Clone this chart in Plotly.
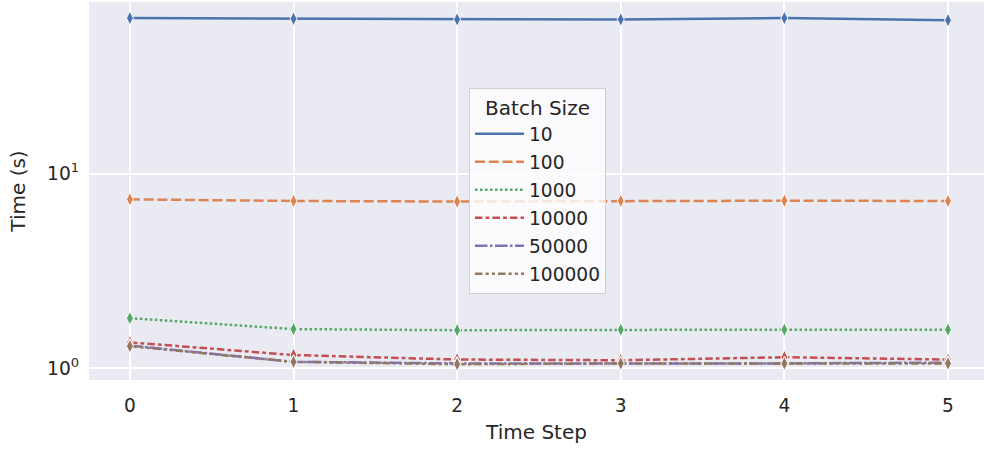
import plotly.graph_objects as go

# Time per step for each batch size
time_steps = [0, 1, 2, 3, 4, 5]
batch_sizes = ["10", "100", "1000", "10000", "50000", "100000"]
t_10 = [63.0, 62.5, 62.0, 62.0, 63.0, 61.5]
t_100 = [7.38, 7.24, 7.19, 7.24, 7.26, 7.24]
t_1000 = [1.81, 1.59, 1.57, 1.58, 1.58, 1.58]
t_10000 = [1.36, 1.17, 1.11, 1.10, 1.14, 1.11]
t_50000 = [1.31, 1.08, 1.06, 1.06, 1.06, 1.07]
t_100000 = [1.30, 1.08, 1.05, 1.06, 1.06, 1.06]

series = [t_10, t_100, t_1000, t_10000, t_50000, t_100000]
colors = ["#4C72B0", "#DD8452", "#55A868", "#C44E52", "#8172B3", "#937860"]
dashes = [
    "solid",
    "10px,3.75px",
    "2.5px,2.5px",
    "7.5px,3.1px,3.75px,3.1px",
    "12.5px,2.5px,2.5px,2.5px",
    "7.5px,3.1px,3.1px,3.1px,3.1px,3.1px",
]

FONT = "DejaVu Sans"
TEXT = "#262626"

fig = go.Figure()
for name, ys, c, d in zip(batch_sizes, series, colors, dashes):
    fig.add_trace(go.Scatter(
        x=time_steps, y=ys, mode="lines+markers", name=name,
        line=dict(color=c, width=2.5, dash=d),
        marker=dict(symbol="diamond-tall", size=10, color=c,
                    line=dict(color="white", width=1)),
        showlegend=False,
    ))
# legend entries show line samples only
for name, c, d in zip(batch_sizes, colors, dashes):
    fig.add_trace(go.Scatter(
        x=[None], y=[None], mode="lines", name=name,
        legendgroup=name,
        line=dict(color=c, width=2.5, dash=d),
    ))

fig.update_layout(
    width=984, height=450,
    margin=dict(l=89, r=0, t=2, b=70),
    paper_bgcolor="white",
    plot_bgcolor="#EAEAF2",
    font=dict(family=FONT, color=TEXT, size=18.6),
    legend=dict(
        title=dict(text="Batch Size", font=dict(size=20), side="top center"),
        x=0.4246, xanchor="left", y=0.772, yanchor="top",
        bgcolor="rgba(255,255,255,0.8)",
        bordercolor="#D0D0D0", borderwidth=1,
        font=dict(size=18.6),
        itemwidth=49,
        tracegroupgap=0.8,
    ),
    showlegend=True,
)
fig.update_xaxes(
    range=[-0.25, 5.22], tickvals=time_steps,
    showgrid=True, gridcolor="white", gridwidth=1.7,
    zeroline=False, showline=False, ticks="",
    ticklabelstandoff=12,
    title=dict(text="Time Step", font=dict(size=20), standoff=10),
    tickfont=dict(size=18.6),
)
fig.update_yaxes(
    type="log", range=[-0.06, 1.882],
    tickvals=[1, 10], ticktext=["10<sup>0</sup>", "10<sup>1</sup>"],
    showgrid=True, gridcolor="white", gridwidth=1.7,
    zeroline=False, showline=False, ticks="",
    ticklabelstandoff=9,
    title=dict(text="Time (s)", font=dict(size=20), standoff=16),
    tickfont=dict(size=18.6),
)

fig.write_html("out.html")
